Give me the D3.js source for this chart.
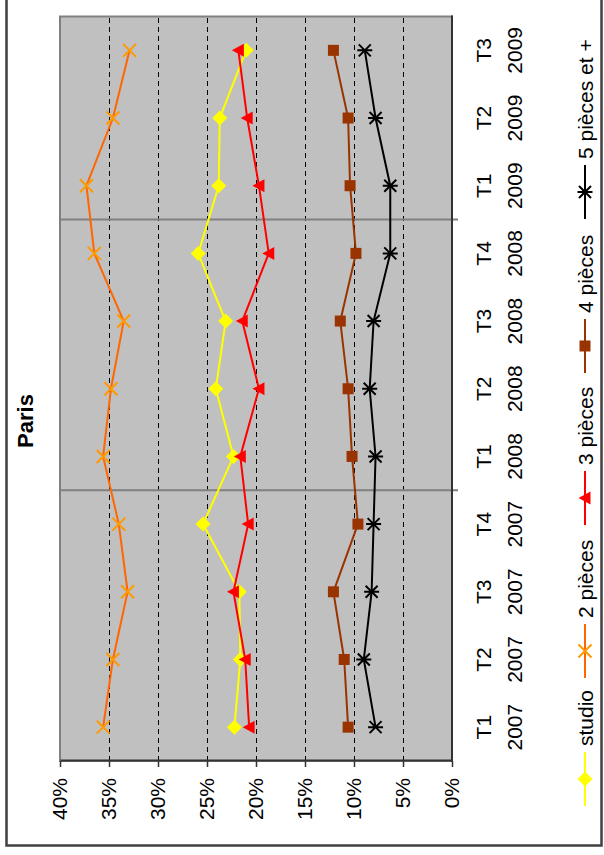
<!DOCTYPE html>
<html>
<head>
<meta charset="utf-8">
<script src="https://cdn.jsdelivr.net/npm/d3@7"></script>
<style>
  html, body { margin: 0; padding: 0; background: #fff; }
  svg { display: block; }
  text { font-family: "Liberation Sans", Arial, sans-serif; fill: #000; }
</style>
</head>
<body>
<svg id="chart" width="604" height="855"></svg>
<script>
// Quarterly share of sales by dwelling size, Paris
const quarters = ["T1", "T2", "T3", "T4", "T1", "T2", "T3", "T4", "T1", "T2", "T3"];
const years    = ["2007", "2007", "2007", "2007", "2008", "2008", "2008", "2008", "2009", "2009", "2009"];
const categories = quarters.map((q, i) => q + " " + years[i]);

const studio       = [22.2, 21.6, 21.7, 25.4, 22.3, 24.1, 23.1, 25.9, 23.8, 23.7, 21.0];
const deuxPieces   = [35.6, 34.6, 33.1, 34.0, 35.6, 34.8, 33.5, 36.5, 37.3, 34.6, 32.9];
const troisPieces  = [20.7, 21.1, 22.3, 20.8, 21.6, 19.7, 21.4, 18.7, 19.7, 20.9, 21.8];
const quatrePieces = [10.6, 11.0, 12.1, 9.6, 10.2, 10.6, 11.4, 9.8, 10.4, 10.6, 12.1];
const cinqPieces   = [7.8, 9.0, 8.2, 8.0, 7.8, 8.4, 8.0, 6.3, 6.3, 7.8, 8.9];

const seriesNames = ["studio", "2 pièces", "3 pièces", "4 pièces", "5 pièces et +"];
const valueTicks = [0, 5, 10, 15, 20, 25, 30, 35, 40];

const series = [
  { name: seriesNames[0], values: studio,       line: "#FFFF00", fill: "#FFFF00", marker: "diamond" },
  { name: seriesNames[1], values: deuxPieces,   line: "#FF6600", fill: "#FF9900", marker: "x" },
  { name: seriesNames[2], values: troisPieces,  line: "#FF0000", fill: "#FF0000", marker: "triangle" },
  { name: seriesNames[3], values: quatrePieces, line: "#993300", fill: "#993300", marker: "square" },
  { name: seriesNames[4], values: cinqPieces,   line: "#000000", fill: "#000000", marker: "star" }
];

// The chart is laid out in a landscape frame, then turned a quarter turn
// counter-clockwise so that it reads from the bottom of the page upward.
const W = 855, H = 604;
const FONT = 21;
const svg = d3.select("#chart");

// Outer frame
svg.append("rect")
  .attr("x", 6.5).attr("y", -4).attr("width", 595).attr("height", 849.5)
  .attr("fill", "#fff").attr("stroke", "#404040").attr("stroke-width", 2.5);

const root = svg.append("g").attr("transform", `translate(0,${W}) rotate(-90)`);

const plot = { left: 94, right: 838.5, top: 60, bottom: 452 };

const x = d3.scaleBand().domain(categories).range([plot.left, plot.right]).paddingInner(0).paddingOuter(0);
const y = d3.scaleLinear().domain([0, 40]).range([plot.bottom, plot.top]);
const cx = i => x(categories[i]) + x.bandwidth() / 2;

// Plot area
root.append("rect")
  .attr("x", plot.left).attr("y", plot.top)
  .attr("width", plot.right - plot.left).attr("height", plot.bottom - plot.top)
  .attr("fill", "#C0C0C0").attr("stroke", "#808080").attr("stroke-width", 2);

// Dashed value gridlines
root.append("g").selectAll("line")
  .data(valueTicks.filter(v => v > 0 && v < 40))
  .join("line")
  .attr("x1", plot.left).attr("x2", plot.right)
  .attr("y1", d => Math.round(y(d)) + 0.5).attr("y2", d => Math.round(y(d)) + 0.5)
  .attr("stroke", "#000").attr("stroke-width", 1).attr("stroke-dasharray", "5,4");

// Category gridlines every four quarters (year boundaries)
const yearBreaks = [4, 8];
root.append("g").selectAll("line")
  .data(yearBreaks)
  .join("line")
  .attr("x1", d => x(categories[d])).attr("x2", d => x(categories[d]))
  .attr("y1", plot.top).attr("y2", plot.bottom + 6)
  .attr("stroke", "#808080").attr("stroke-width", 2);

// Value axis
const yAxis = root.append("g")
  .attr("transform", `translate(${plot.left},0)`)
  .call(d3.axisLeft(y).tickValues(valueTicks).tickFormat(d => d + "%").tickSize(6).tickSizeOuter(0).tickPadding(11));
yAxis.select(".domain").attr("stroke", "#333").attr("stroke-width", 2);
yAxis.selectAll(".tick line").attr("stroke", "#333").attr("stroke-width", 1.5);
yAxis.selectAll(".tick text")
  .attr("font-size", FONT)
  .style("font-family", '"Liberation Sans", Arial, sans-serif')
  .attr("fill", "#000");

// Category axis line at 0 %
root.append("line")
  .attr("x1", plot.left - 1).attr("x2", plot.right + 1)
  .attr("y1", plot.bottom).attr("y2", plot.bottom)
  .attr("stroke", "#333").attr("stroke-width", 2);

// Category labels (quarter on top, year below)
const catLabels = root.append("g").selectAll("text")
  .data(categories)
  .join("text")
  .attr("text-anchor", "middle")
  .attr("font-size", FONT);
catLabels.append("tspan").attr("x", (d, i) => cx(i)).attr("y", 491).text((d, i) => quarters[i]);
catLabels.append("tspan").attr("x", (d, i) => cx(i)).attr("y", 522).text((d, i) => years[i]);

// Marker shapes
function drawMarker(g, type, color) {
  switch (type) {
    case "diamond":
      g.append("path").attr("d", "M0,-7.5L7.5,0L0,7.5L-7.5,0Z").attr("fill", color);
      break;
    case "x":
      g.append("path").attr("d", "M-6.5,-6.5L6.5,6.5M-6.5,6.5L6.5,-6.5").attr("stroke", color).attr("stroke-width", 2).attr("fill", "none");
      break;
    case "triangle":
      g.append("path").attr("d", "M0,-6.5L6.5,5.5L-6.5,5.5Z").attr("fill", color);
      break;
    case "square":
      g.append("rect").attr("x", -5.5).attr("y", -5.5).attr("width", 11).attr("height", 11).attr("fill", color);
      break;
    case "star":
      g.append("path").attr("d", "M-6,-6L6,6M-6,6L6,-6M0,-7.5L0,7.5").attr("stroke", color).attr("stroke-width", 2).attr("fill", "none");
      break;
  }
}

const line = d3.line()
  .x((d, i) => cx(i))
  .y(d => y(d));

const seriesG = root.append("g").selectAll("g")
  .data(series)
  .join("g");

seriesG.append("path")
  .attr("d", d => line(d.values))
  .attr("fill", "none")
  .attr("stroke", d => d.line)
  .attr("stroke-width", 2);

seriesG.each(function (s) {
  const g = d3.select(this);
  s.values.forEach((v, i) => {
    const m = g.append("g").attr("transform", `translate(${cx(i)},${y(v)})`);
    drawMarker(m, s.marker, s.fill);
  });
});

// Title
root.append("text")
  .attr("x", 434).attr("y", 33)
  .attr("text-anchor", "middle")
  .attr("font-size", 22).attr("font-weight", "bold")
  .text("Paris");

// Legend: sample line with marker, then the series name
const legendY = 585;
const legendMarkX = [76, 204, 357, 509, 663];
const legend = root.append("g").selectAll("g")
  .data(series)
  .join("g")
  .attr("transform", (d, i) => `translate(${legendMarkX[i]},${legendY})`);
legend.append("line")
  .attr("x1", -27).attr("x2", 27)
  .attr("stroke", d => d.line).attr("stroke-width", 2);
legend.each(function (s) {
  drawMarker(d3.select(this).append("g"), s.marker, s.fill);
});
legend.append("text")
  .attr("x", 33).attr("y", 7.5)
  .attr("font-size", FONT)
  .text(d => d.name);
</script>
</body>
</html>
